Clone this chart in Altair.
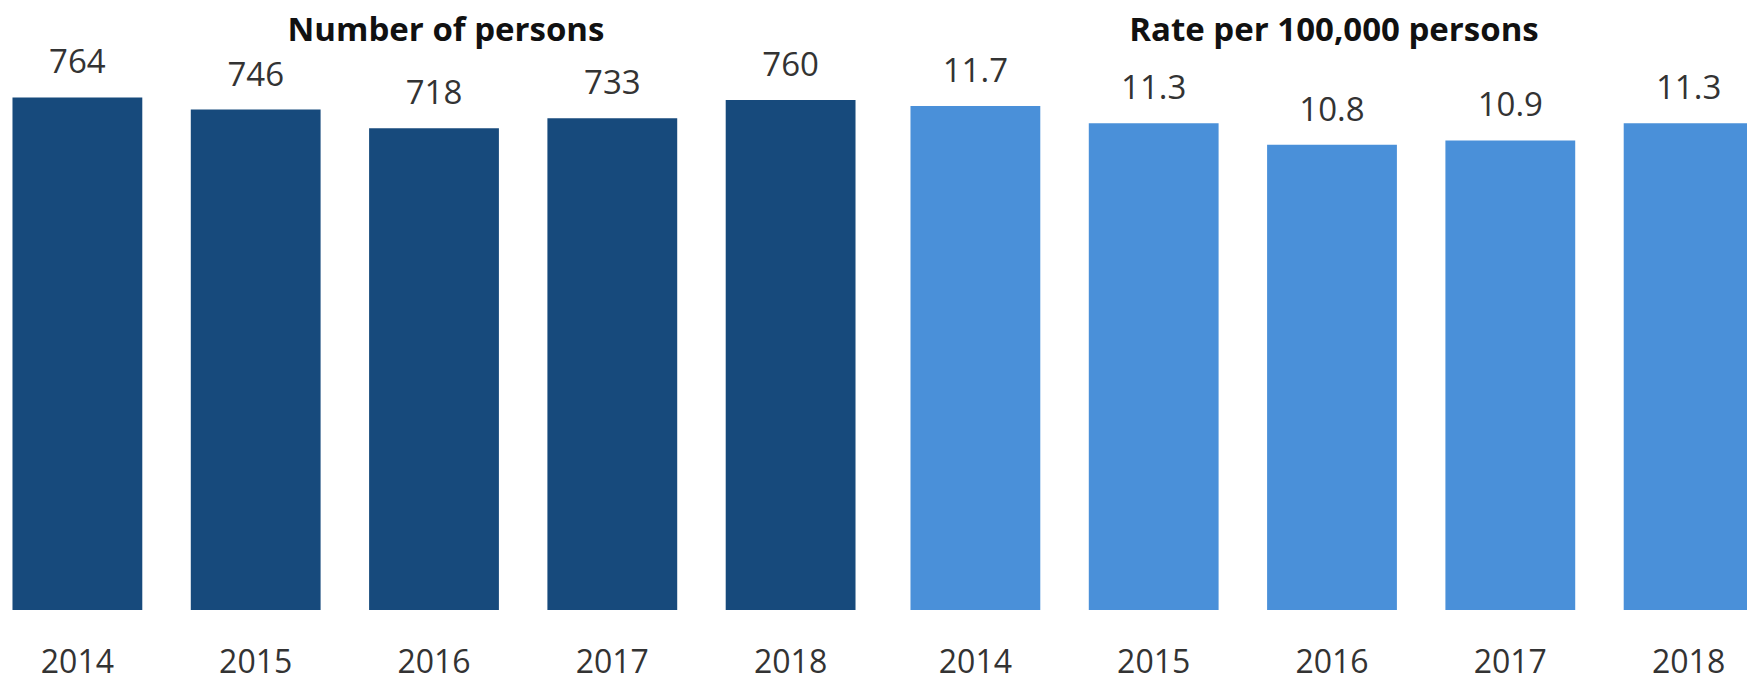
import altair as alt
import pandas as pd

years = ["2014", "2015", "2016", "2017", "2018"]
persons = [764, 746, 718, 733, 760]
rates = [11.7, 11.3, 10.8, 10.9, 11.3]

df_n = pd.DataFrame({"year": years, "value": persons, "label": [str(v) for v in persons]})
df_r = pd.DataFrame({"year": years, "value": rates, "label": [f"{v:.1f}" for v in rates]})

FONT = "Open Sans"
H = 571
W = 868


def panel(df, title, color, ymax, tdx):
    x = alt.X("year:N", title=None,
              scale=alt.Scale(paddingInner=0.272, paddingOuter=0.07),
              axis=alt.Axis(labelAngle=0, ticks=False, domain=False, labelPadding=37,
                            labelFontSize=32, labelFont=FONT, labelColor="#333333"))
    y = alt.Y("value:Q", title=None, scale=alt.Scale(domain=[0, ymax], nice=False, zero=True),
              axis=None)
    base = alt.Chart(df).encode(x=x, y=y)
    bars = base.mark_bar(color=color)
    text = base.mark_text(dy=-34, baseline="middle", fontSize=33, font=FONT, color="#333333").encode(
        text="label:N")
    return (bars + text).properties(
        width=W, height=H,
        title=alt.TitleParams(title, fontSize=33, font=FONT, fontWeight="bold", color="#111111",
                              anchor="middle", frame="group", baseline="alphabetic",
                              offset=-35, dx=tdx))


left = panel(df_n, "Number of persons", "#174A7C", H / 0.6709, 12)
right = panel(df_r, "Rate per 100,000 persons", "#4A90D9", H / 43.08, 2)

# the right panel runs past the window edge, as in the reference
chart = alt.hconcat(left, right, spacing=30).properties(
    padding={"top": 15, "left": 0, "right": -19, "bottom": -5}
).configure(background="white").configure_view(stroke=None)

chart.save("out.html", embed_options={"renderer": "svg", "actions": False})
